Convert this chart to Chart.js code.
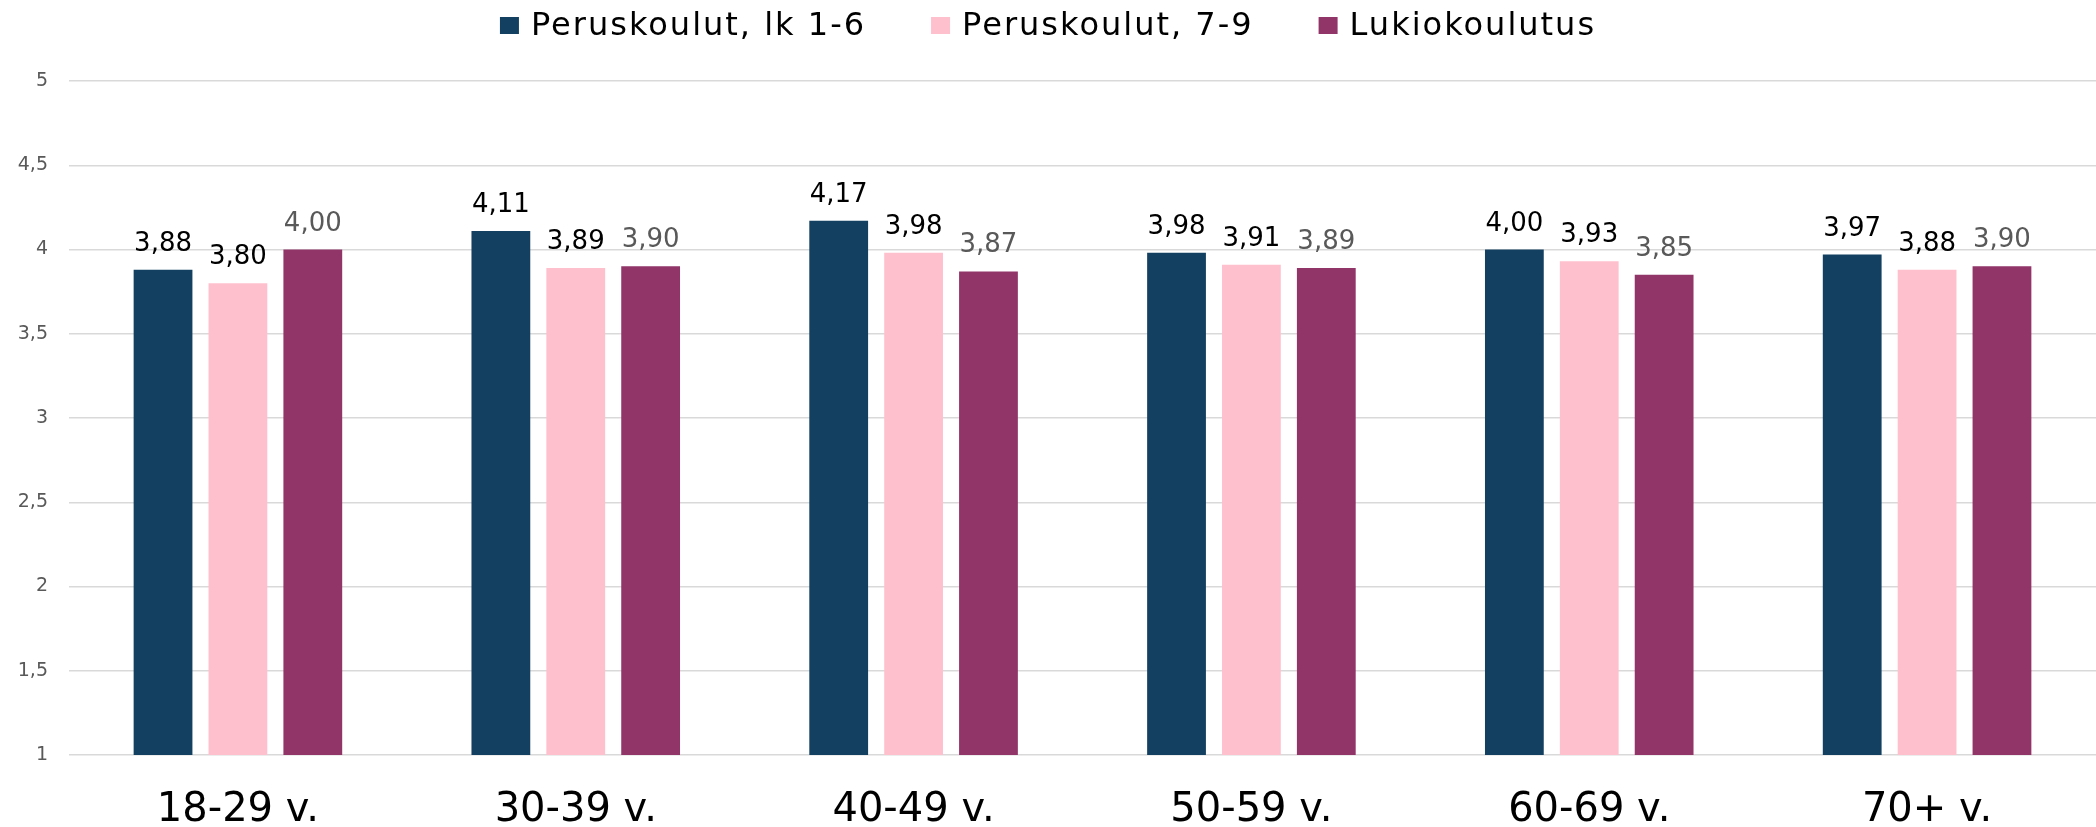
<!DOCTYPE html>
<html>
<head>
<meta charset="utf-8">
<script src="https://cdn.jsdelivr.net/npm/chart.js@4.4.1/dist/chart.umd.min.js"></script>
<style>
  html, body { margin: 0; padding: 0; background: #fff; }
  #wrap { width: 2096px; height: 827px; position: relative; }
</style>
</head>
<body>
<div id="wrap"><canvas id="chart"></canvas></div>
<script>
/* ===== Data ===== */
const ageGroups = ['18-29 v.', '30-39 v.', '40-49 v.', '50-59 v.', '60-69 v.', '70+ v.'];
const seriesNames = ['Peruskoulut, lk 1-6', 'Peruskoulut, 7-9', 'Lukiokoulutus'];
const grades1to6 = [3.88, 4.11, 4.17, 3.98, 4.00, 3.97];
const grades7to9 = [3.80, 3.89, 3.98, 3.91, 3.93, 3.88];
const upperSecondary = [4.00, 3.90, 3.87, 3.89, 3.85, 3.90];
const yMin = 1, yMax = 5, yStep = 0.5;

const colors = ['#134060', '#FFC0CE', '#913468'];
const labelColors = ['#000000', '#000000', '#595959'];
const FONT = '"DejaVu Sans", sans-serif';

// Finnish number format: comma as decimal separator
const fi = (v, digits) => v.toFixed(digits).replace('.', ',');

/* Value labels above each bar */
const barLabels = {
  id: 'barLabels',
  afterDatasetsDraw(chart) {
    const ctx = chart.ctx;
    ctx.save();
    ctx.font = '26px ' + FONT;
    ctx.textAlign = 'center';
    ctx.textBaseline = 'alphabetic';
    chart.data.datasets.forEach((ds, i) => {
      const meta = chart.getDatasetMeta(i);
      ctx.fillStyle = labelColors[i];
      meta.data.forEach((bar, j) => {
        ctx.fillText(fi(ds.data[j], 2), bar.x, bar.y - 19);
      });
    });
    ctx.restore();
  }
};

/* Legend row at the top, centred */
const topLegend = {
  id: 'topLegend',
  afterDraw(chart) {
    const ctx = chart.ctx;
    const boxW = 19, boxH = 17, textGap = 12, itemGap = 65;
    ctx.save();
    ctx.font = '32px ' + FONT;
    ctx.letterSpacing = '2px';
    ctx.textBaseline = 'alphabetic';
    ctx.textAlign = 'left';
    const items = chart.data.datasets.map(ds => ({
      text: ds.label, color: ds.backgroundColor, w: ctx.measureText(ds.label).width
    }));
    const total = items.reduce((s, it) => s + boxW + textGap + it.w, 0) + itemGap * (items.length - 1);
    let x = chart.width / 2 - total / 2;
    items.forEach(it => {
      ctx.fillStyle = it.color;
      ctx.fillRect(x, 17, boxW, boxH);
      ctx.fillStyle = '#000';
      ctx.fillText(it.text, x + boxW + textGap, 35);
      x += boxW + textGap + it.w + itemGap;
    });
    ctx.restore();
  }
};

const seriesValues = [grades1to6, grades7to9, upperSecondary];

new Chart(document.getElementById('chart'), {
  type: 'bar',
  data: {
    labels: ageGroups,
    datasets: seriesNames.map((name, i) => ({
      label: name,
      data: seriesValues[i],
      backgroundColor: colors[i],
      borderWidth: 0,
      categoryPercentage: 0.665,
      barPercentage: 0.785
    }))
  },
  options: {
    responsive: true,
    maintainAspectRatio: false,
    animation: false,
    layout: { padding: { top: 81, left: 0, right: 0, bottom: 0 } },
    plugins: {
      legend: { display: false },
      tooltip: { enabled: false }
    },
    scales: {
      x: {
        grid: { display: false },
        border: { display: false },
        ticks: {
          color: '#000',
          font: { family: FONT, size: 40 },
          padding: 24,
          maxRotation: 0
        },
        afterFit(scale) { scale.height = 72; }
      },
      y: {
        min: yMin,
        max: yMax,
        grid: { color: '#d9d9d9', lineWidth: 1.5, drawTicks: false },
        border: { display: false },
        ticks: {
          stepSize: yStep,
          color: '#595959',
          font: { family: FONT, size: 19 },
          padding: 21,
          callback: v => Number.isInteger(v) ? String(v) : fi(v, 1)
        },
        afterFit(scale) { scale.width = 69; }
      }
    }
  },
  plugins: [barLabels, topLegend]
});
</script>
</body>
</html>
